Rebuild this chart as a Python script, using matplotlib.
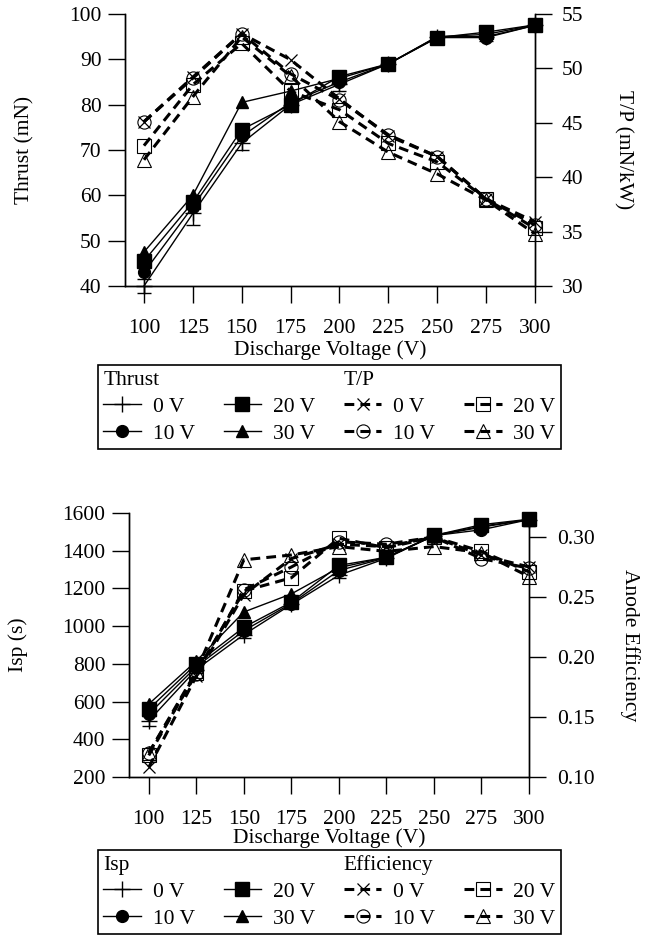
import numpy as np
import matplotlib
matplotlib.use("Agg")
import matplotlib.pyplot as plt
from matplotlib.lines import Line2D

plt.rcParams['font.family'] = ['Liberation Serif', 'DejaVu Serif']
plt.rcParams['font.size'] = 15.5

# discharge voltage (V)
voltage = [100, 125, 150, 175, 200, 225, 250, 275, 300]
bias_labels = ["0 V", "10 V", "20 V", "30 V"]

# thrust (mN)
thrust_0 = [40.0, 56.0, 71.5, 80.0, 84.5, 89.0, 95.0, 95.0, 97.5]
thrust_10 = [43.0, 57.5, 73.0, 80.5, 85.0, 89.0, 94.8, 94.8, 97.5]
thrust_20 = [45.5, 58.5, 74.5, 80.0, 86.2, 89.0, 94.8, 96.0, 97.6]
thrust_30 = [47.5, 60.0, 80.5, 83.0, 85.8, 89.0, 95.0, 95.5, 97.6]
thrust_err = [1.5, 2.5, 1.5, 1.0, 1.5, 0.5, 0.5, 1.0, 0.5]

# thrust to power (mN/kW)
tp_0 = [45.1, 49.2, 53.2, 50.8, 47.2, 43.8, 41.9, 38.0, 35.9]
tp_10 = [45.1, 49.1, 53.2, 49.5, 47.1, 43.9, 41.9, 38.0, 35.6]
tp_20 = [42.9, 48.5, 52.3, 47.9, 46.2, 43.1, 41.4, 38.0, 35.3]
tp_30 = [41.6, 47.4, 52.9, 49.3, 45.1, 42.3, 40.3, 37.9, 34.8]

# specific impulse (s)
isp_0 = [498, 770, 955, 1115, 1270, 1360, 1480, 1525, 1565]
isp_10 = [533, 785, 976, 1120, 1295, 1363, 1480, 1511, 1565]
isp_20 = [560, 800, 994, 1127, 1322, 1365, 1481, 1538, 1567]
isp_30 = [587, 815, 1075, 1171, 1310, 1365, 1481, 1530, 1565]
isp_err = [25, 20, 20, 15, 15, 10, 10, 10, 10]

# anode efficiency
eff_0 = [0.108, 0.184, 0.252, 0.282, 0.294, 0.292, 0.300, 0.285, 0.275]
eff_10 = [0.120, 0.186, 0.256, 0.275, 0.296, 0.294, 0.300, 0.282, 0.274]
eff_20 = [0.118, 0.187, 0.255, 0.266, 0.299, 0.291, 0.300, 0.288, 0.271]
eff_30 = [0.120, 0.188, 0.281, 0.285, 0.292, 0.288, 0.292, 0.287, 0.267]

solid_marks = [dict(marker='+', ms=12, mew=1.0),
               dict(marker='o', ms=8.5),
               dict(marker='s', ms=9.5),
               dict(marker='^', ms=9)]
open_marks = [dict(marker='x', ms=9, mew=0.9),
              dict(marker='o', ms=9.5, mfc='none', mew=0.8),
              dict(marker='s', ms=9.5, mfc='none', mew=0.8),
              dict(marker='^', ms=10, mfc='none', mew=0.8)]
DASH = dict(ls=(0, (3.2, 2.0)), lw=2.2)

fig = plt.figure(figsize=(6.5, 9.36), dpi=100)


def style_axes(ax, ax2, ylim, ylim2, yticks, yticks2):
    ax.set_xlim(xlim_of[ax])
    ax.set_ylim(ylim)
    ax2.set_ylim(ylim2)
    ax.set_xticks(voltage)
    ax.set_yticks(yticks)
    ax2.set_yticks(yticks2)
    for a in (ax, ax2):
        a.spines['top'].set_visible(False)
        for s in a.spines.values():
            s.set_linewidth(1.0)
        a.tick_params(direction='out', length=12, width=1.0, labelsize=15.5)
    ax.tick_params(axis='y', pad=5)
    ax.tick_params(axis='x', pad=11.5)
    ax2.tick_params(axis='y', pad=7)


def draw_panel(ax, ax2, left_series, right_series, err):
    for i, (ys, mk) in enumerate(zip(left_series, solid_marks)):
        ax.plot(voltage, ys, color='black', lw=1.0, clip_on=False, zorder=3, **mk)
        if i == 0:
            ax.errorbar(voltage, ys, yerr=err, fmt='none', ecolor='black',
                        elinewidth=1.0, capsize=5, clip_on=False, zorder=3)
    for ys, mk in zip(right_series, open_marks):
        ax2.plot(voltage, ys, color='black', mec='black', clip_on=False,
                 zorder=3, **DASH, **mk)


def make_legend(left_title, right_title, top_y):
    handles, labels = [], []
    blank = Line2D([], [], color='none')
    groups = [(left_title, solid_marks, {'ls': '-', 'lw': 1.0}),
              (right_title, open_marks, DASH)]
    for title, marks, lstyle in groups:
        hs = [Line2D([], [], color='black', mec='black', **lstyle, **m) for m in marks]
        handles += [blank, hs[0], hs[1], blank, hs[2], hs[3]]
        labels += [title, bias_labels[0], bias_labels[1], " ", bias_labels[2], bias_labels[3]]
    leg = fig.legend(handles, labels, ncol=4, loc='upper left',
                     bbox_to_anchor=(98 / 650, 1 - top_y / 936),
                     bbox_transform=fig.transFigure,
                     frameon=True, fancybox=False, edgecolor='black',
                     framealpha=1, handlelength=1.75, handletextpad=0.55,
                     columnspacing=1.33, labelspacing=0.3, borderpad=0.25,
                     borderaxespad=0, fontsize=15.5)
    leg.get_frame().set_linewidth(1.2)
    # titles sit flush left, without a handle
    for col in leg._legend_handle_box.get_children():
        for hp in col.get_children():
            da, tb = hp.get_children()
            if tb.get_children()[0].get_text() in (left_title, right_title):
                da.width = 0
                hp.sep = 0
    return leg


# ---- top panel: thrust and T/P ----
ax1 = fig.add_axes([125 / 650, 1 - 286 / 936, 410 / 650, 272 / 936])
ax2 = ax1.twinx()
ax3 = fig.add_axes([129 / 650, 1 - 777 / 936, 400 / 650, 264 / 936])
ax4 = ax3.twinx()
xlim_of = {ax1: (90.3, 300), ax3: (89.6, 300)}

draw_panel(ax1, ax2, [thrust_0, thrust_10, thrust_20, thrust_30],
           [tp_0, tp_10, tp_20, tp_30], thrust_err)
style_axes(ax1, ax2, (40, 100), (30, 55), np.arange(40, 101, 10), np.arange(30, 56, 5))
ax1.set_xlabel("Discharge Voltage (V)", labelpad=2)
ax1.set_ylabel("Thrust (mN)")
ax2.set_ylabel("T/P (mN/kW)", rotation=270)
ax1.yaxis.set_label_coords(-0.244, 0.5)
ax2.yaxis.set_label_coords(1.215, 0.5)

# ---- bottom panel: Isp and anode efficiency ----
draw_panel(ax3, ax4, [isp_0, isp_10, isp_20, isp_30],
           [eff_0, eff_10, eff_20, eff_30], isp_err)
style_axes(ax3, ax4, (200, 1600), (0.10, 0.32), np.arange(200, 1601, 200),
           [0.10, 0.15, 0.20, 0.25, 0.30])
ax4.set_yticklabels(["0.10", "0.15", "0.20", "0.25", "0.30"])
ax4.tick_params(axis='y', pad=8)
ax3.set_xlabel("Discharge Voltage (V)", labelpad=0)
ax3.set_ylabel("Isp (s)")
ax4.set_ylabel("Anode Efficiency", rotation=270)
ax3.yaxis.set_label_coords(-0.2775, 0.5)
ax4.yaxis.set_label_coords(1.2525, 0.5)

for a in (ax1, ax2, ax3, ax4):
    a.yaxis.label.set_va('center')
    a.yaxis.label.set_ha('center')

make_legend("Thrust", "T/P", 365)
make_legend("Isp", "Efficiency", 850)

fig.savefig("out.png", dpi=100)
